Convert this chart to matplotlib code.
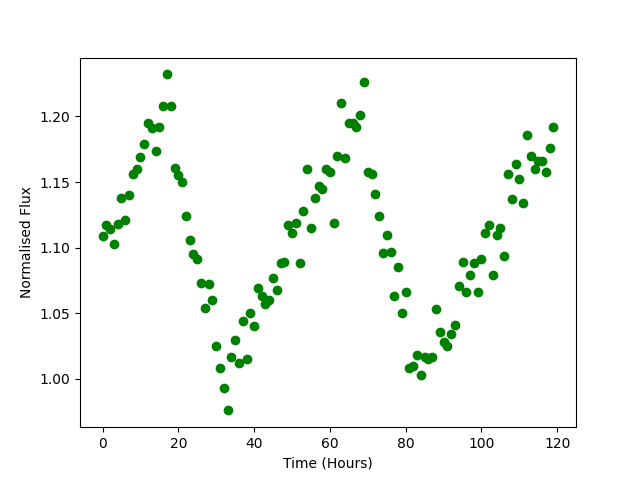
import numpy as np
import matplotlib
matplotlib.use("Agg")
import matplotlib.pyplot as plt

# flux readings, one per hour
time_hours = np.arange(120)
flux = [
    1.109, 1.117, 1.114, 1.103, 1.118, 1.138, 1.121, 1.140, 1.156, 1.160,
    1.169, 1.179, 1.195, 1.191, 1.174, 1.192, 1.208, 1.232, 1.208, 1.161,
    1.155, 1.150, 1.124, 1.106, 1.095, 1.091, 1.073, 1.054, 1.072, 1.060,
    1.025, 1.008, 0.993, 0.976, 1.017, 1.030, 1.012, 1.044, 1.015, 1.050,
    1.040, 1.069, 1.063, 1.057, 1.060, 1.077, 1.068, 1.088, 1.089, 1.117,
    1.111, 1.119, 1.088, 1.128, 1.160, 1.115, 1.138, 1.147, 1.145, 1.160,
    1.158, 1.119, 1.170, 1.210, 1.168, 1.195, 1.195, 1.192, 1.201, 1.226,
    1.158, 1.156, 1.141, 1.124, 1.096, 1.110, 1.097, 1.063, 1.085, 1.050,
    1.066, 1.008, 1.010, 1.018, 1.003, 1.017, 1.015, 1.017, 1.053, 1.036,
    1.028, 1.025, 1.034, 1.041, 1.071, 1.089, 1.066, 1.079, 1.088, 1.066,
    1.091, 1.111, 1.117, 1.079, 1.110, 1.115, 1.094, 1.156, 1.137, 1.164,
    1.152, 1.134, 1.186, 1.170, 1.160, 1.166, 1.166, 1.158, 1.176, 1.192,
]

fig = plt.figure(figsize=(6.4, 4.8), dpi=100)
plt.plot(time_hours, flux, "go")
plt.xlabel("Time (Hours)")
plt.ylabel("Normalised Flux")
plt.savefig("out.png")
